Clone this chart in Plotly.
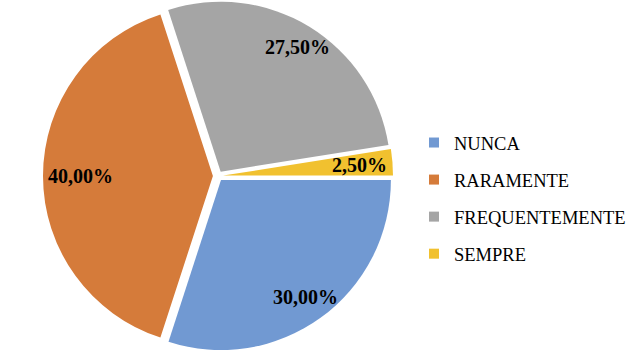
import math
import plotly.graph_objects as go

labels = ["NUNCA", "RARAMENTE", "FREQUENTEMENTE", "SEMPRE"]
values = [30.0, 40.0, 27.5, 2.5]
value_text = ["30,00%", "40,00%", "27,50%", "2,50%"]
colors = ["#7199D2", "#D57B3A", "#A5A5A5", "#F1C12F"]

W, H = 632, 354
mt, mb = 1, 3
pull = 0.03
dom_x = [43 / W, 393 / W]
font_fam = "Liberation Serif, Times New Roman, serif"
lab_size = 20

fig = go.Figure()
fig.add_trace(go.Pie(
    labels=labels, values=values, sort=False, direction="clockwise",
    rotation=90, pull=[pull] * 4, marker=dict(colors=colors, line=dict(width=0)),
    textinfo="none", showlegend=False, hoverinfo="label+percent",
    domain=dict(x=dom_x, y=[0, 1]),
))

# legend via dummy traces
for lab, col in zip(labels, colors):
    fig.add_trace(go.Scatter(x=[None], y=[None], mode="markers", name=lab,
                             legendgroup=lab,
                             marker=dict(symbol="square", size=10, color=col)))

# label annotations computed from slice angles ("inside end" placement)
ph = H - mt - mb
R = ph / (2 + 2 * pull)
cx = (dom_x[0] + dom_x[1]) / 2 * W
cy = mt + ph / 2
total = sum(values)
start = 90.0
for v, t in zip(values, value_text):
    ang = start + v / total * 360 / 2
    start += v / total * 360
    th = math.radians(ang)
    s, c = math.sin(th), -math.cos(th)
    half_w = len(t) * 0.265 * lab_size
    d = pull * R + 0.955 * R - 0.95 * half_w * abs(s)
    px = cx + d * s
    py = cy + d * c
    fig.add_annotation(x=px / W, y=(H - mb - py) / ph, xref="paper", yref="paper",
                       xanchor="center", yanchor="middle",
                       text="<b>%s</b>" % t, showarrow=False,
                       font=dict(family=font_fam, size=lab_size, color="#000000"))

fig.update_layout(
    width=W, height=H, margin=dict(l=0, r=0, t=mt, b=mb),
    paper_bgcolor="white", plot_bgcolor="white",
    xaxis=dict(visible=False), yaxis=dict(visible=False),
    legend=dict(x=414 / W, y=(H - mb - 198.5) / ph, xanchor="left", yanchor="middle",
                font=dict(family=font_fam, size=18.5, color="#000000"),
                tracegroupgap=10, bgcolor="rgba(0,0,0,0)"),
    showlegend=True,
)
fig.write_html("out.html")
